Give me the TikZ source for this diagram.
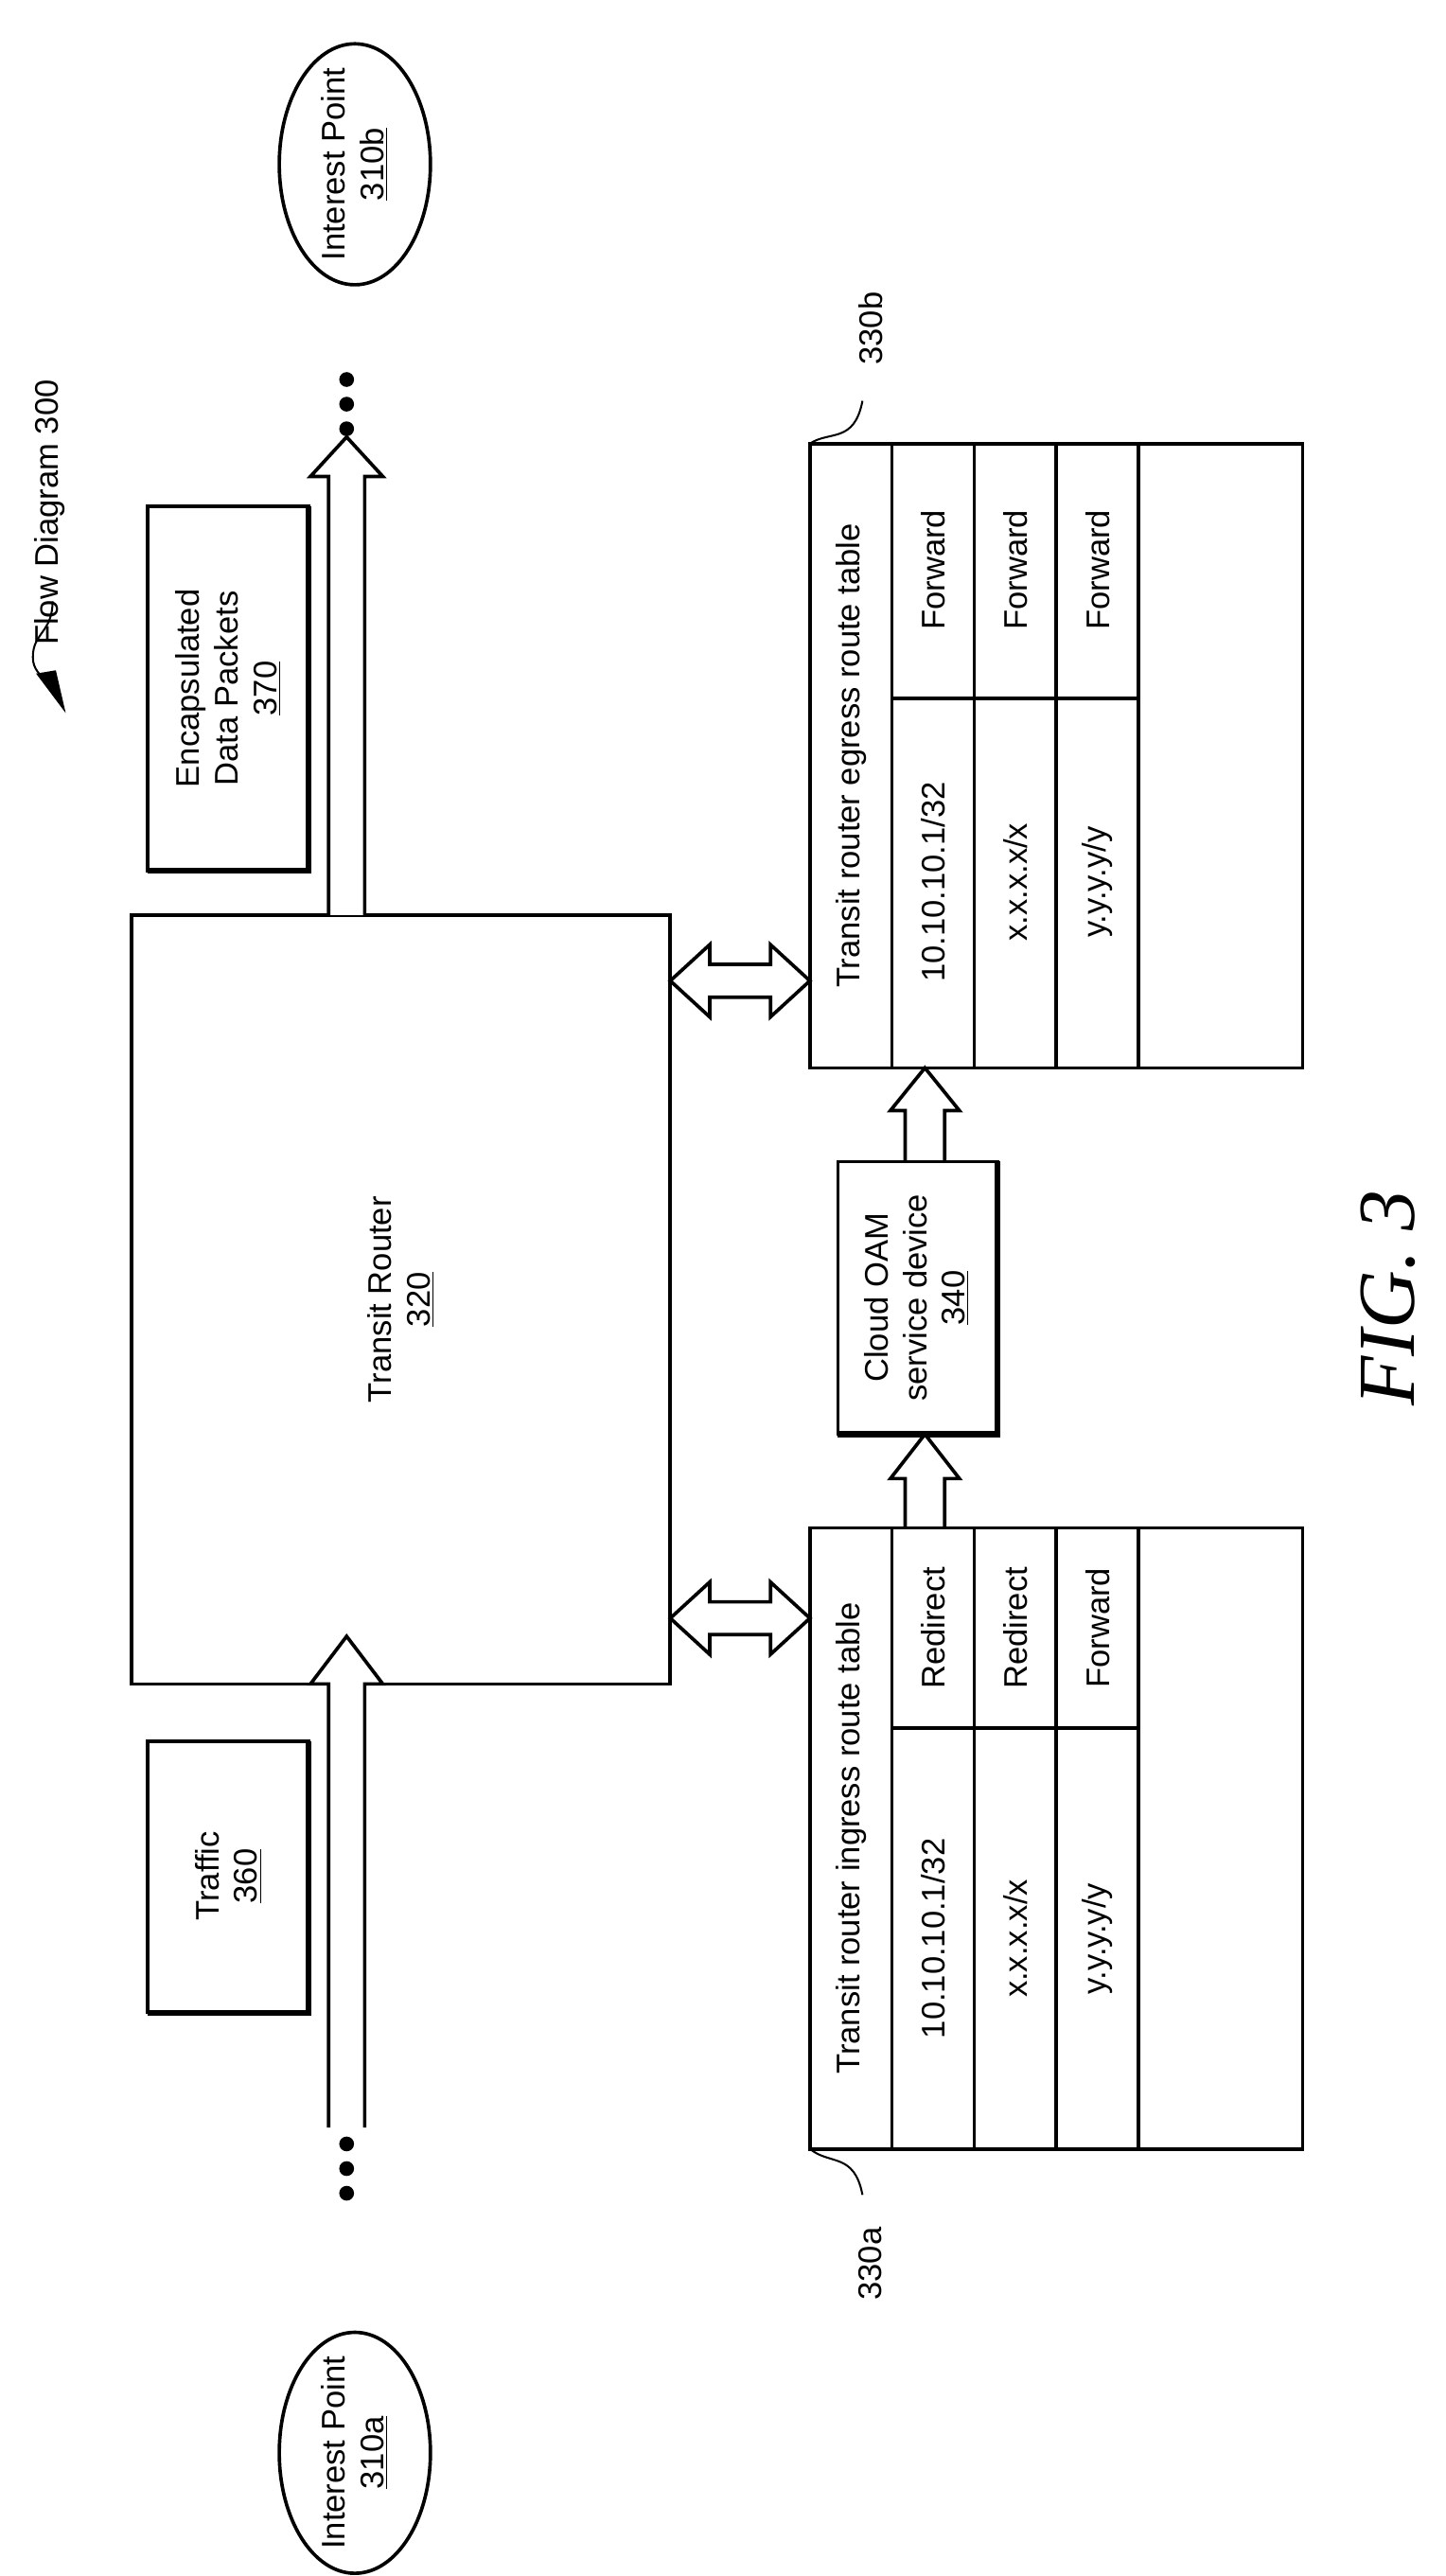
\documentclass[tikz,border=0pt]{standalone}
\usepackage{fontspec}
\setmainfont{Liberation Sans}
\usetikzlibrary{shapes.geometric}
\begin{document}
\begin{tikzpicture}[x=0.03cm,y=-0.03cm,line width=1.8pt,
  lbl/.style={rotate=90,align=center,font=\fontsize{17}{20}\selectfont},
  box/.style={draw,line width=1.8pt},
  harrow/.style={draw,line width=1.8pt,fill=white,line join=miter}]
\useasboundingbox (0,0) rectangle (880,1568);
% Transit router
\draw[box] (80,557) rectangle (408,1025);
\node[lbl] (tr) at (244,791) {Transit Router\\\underline{320}};
% Traffic
\draw[box] (90,1060) rectangle (188,1225);
\draw[line width=3pt] (188,1060)--(188,1225)--(90,1225);
\node[lbl] (traffic) at (139,1142) {Traffic\\\underline{360}};
% Encapsulated
\draw[box] (90,308) rectangle (188,530);
\draw[line width=3pt] (188,308)--(188,530)--(90,530);
\node[lbl] (enc) at (139,419) {Encapsulated\\Data Packets\\\underline{370}};
% ellipses
\node[draw,ellipse,minimum width=92\pgflinewidth*0+2.76cm,minimum height=4.4cm,line width=1.8pt] (ipa) at (216,1493) {};
\node[lbl] at (ipa) {Interest Point\\\underline{310a}};
\node[draw,ellipse,minimum width=2.76cm,minimum height=4.4cm,line width=1.8pt] (ipb) at (216,100) {};
\node[lbl] at (ipb) {Interest Point\\\underline{310b}};
% dots
\foreach \y in {1305,1320,1335,231,246,261} \fill (211,\y) circle (4.5);
% hollow arrows vertical
\draw[harrow] (200,1295)--(200,1025)--(189,1025)--(211,996)--(233,1025)--(222,1025)--(222,1295);
\draw[harrow] (200,557)--(200,290)--(189,290)--(211,266)--(233,290)--(222,290)--(222,557);
% double arrows
\foreach \c in {597,985}{
\draw[harrow] (408,\c)--(432,\c-22)--(432,\c-10)--(469,\c-10)--(469,\c-22)--(493,\c)--(469,\c+22)--(469,\c+10)--(432,\c+10)--(432,\c+22)--cycle;}
% small vertical arrows to/from OAM
\draw[harrow] (551,930)--(551,900)--(542,900)--(563,873)--(584,900)--(575,900)--(575,930);
\draw[harrow] (551,707)--(551,676)--(542,676)--(563,650)--(584,676)--(575,676)--(575,707);
% OAM
\draw[box] (510,707) rectangle (607,873);
\draw[line width=3pt] (607,707)--(607,873)--(510,873);
\node[lbl] (oam) at (558,790) {Cloud OAM\\service device\\\underline{340}};
% tables
\foreach \t/\b/\d in {930/1308/1052,270/650/425}{
  \draw[box] (493,\t) rectangle (793,\b);
  \foreach \x in {543,593,643,693} \draw (\x,\t)--(\x,\b);
  \draw (543,\d)--(693,\d);
}
\node[lbl] (ti) at (518,1119) {Transit router ingress route table};
\node[lbl] at (568,1180) {10.10.10.1/32};
\node[lbl] at (618,1180) {x.x.x.x/x};
\node[lbl] at (668,1180) {y.y.y.y/y};
\node[lbl] at (568,991) {Redirect};
\node[lbl] at (618,991) {Redirect};
\node[lbl] at (668,991) {Forward};
\node[lbl] (te) at (518,460) {Transit router egress route table};
\node[lbl] at (568,537) {10.10.10.1/32};
\node[lbl] at (618,537) {x.x.x.x/x};
\node[lbl] at (668,537) {y.y.y.y/y};
\node[lbl] at (568,347) {Forward};
\node[lbl] at (618,347) {Forward};
\node[lbl] at (668,347) {Forward};
% reference labels
\node[lbl] (la) at (530,1378) {330a};
\draw[line width=1pt] (493,1308) .. controls (505,1318) and (520,1310) .. (525,1336);
\node[lbl] (lb) at (530,200) {330b};
\draw[line width=1pt] (493,270) .. controls (505,262) and (520,270) .. (525,244);
\node[lbl] (fd) at (30,312) {Flow Diagram 300};
\draw[line width=1pt] (32,366) .. controls (32,385) and (20,385) .. (20,400) .. controls (20,408) and (25,410) .. (27,415);
\fill (22,410)--(34,408)--(40,434)--cycle;
\node[rotate=90,font=\fontsize{42}{48}\selectfont\itshape\rmfamily] (fig) at (845,790) {\fontspec{Liberation Serif}FIG. 3};
\end{tikzpicture}
\end{document}
